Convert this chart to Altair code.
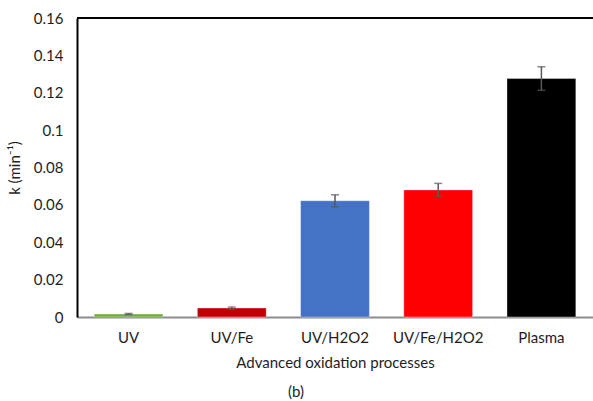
import altair as alt
import pandas as pd

# Pseudo-first-order rate constants for each process
processes = ["UV", "UV/Fe", "UV/H2O2", "UV/Fe/H2O2", "Plasma"]
k_values = [0.0016, 0.0048, 0.0622, 0.0680, 0.1276]
k_errors = [0.0003, 0.0005, 0.0032, 0.0035, 0.0063]
bar_colors = ["#70AD47", "#C00000", "#4472C4", "#FF0000", "#000000"]
y_ticks = [0, 0.02, 0.04, 0.06, 0.08, 0.1, 0.12, 0.14, 0.16]

df = pd.DataFrame({"process": processes, "k": k_values, "err": k_errors})

FONT = "Lato"
FS = 15
TXT = "#1e1e1e"
W, H = 516, 299
LEFT, TOP = 77, 18

x_enc = alt.X(
    "process:N",
    sort=processes,
    scale=alt.Scale(paddingInner=0.333, paddingOuter=0.1665),
    axis=alt.Axis(
        title="Advanced oxidation processes",
        labelAngle=0,
        ticks=False,
        domainColor="#8c8c8c",
        domainWidth=2,
        labelPadding=13,
        titlePadding=10,
    ),
)

y_scale = alt.Scale(domain=[0, 0.16], nice=False)
y_axis = alt.Axis(
    title="k (min⁻¹)",
    values=y_ticks,
    format="~g",
    grid=False,
    ticks=False,
    labelOverlap=False,
    domainColor="#000000",
    domainWidth=2,
    labelPadding=14,
    titlePadding=11,
)

bars = alt.Chart(df).mark_bar(stroke="#ffffff", strokeOpacity=0.35, strokeWidth=1).encode(
    x=x_enc,
    y=alt.Y("k:Q", scale=y_scale, axis=y_axis),
    color=alt.Color("process:N", sort=processes,
                    scale=alt.Scale(domain=processes, range=bar_colors), legend=None),
)

base_err = alt.Chart(df).transform_calculate(
    lo="datum.k - datum.err", hi="datum.k + datum.err"
)

err_rule = base_err.mark_rule(color="#595959", strokeWidth=1.5).encode(
    x=alt.X("process:N", sort=processes),
    y=alt.Y("lo:Q", scale=y_scale, axis=y_axis),
    y2="hi:Q",
)
cap_lo = base_err.mark_tick(color="#595959", thickness=1.5, size=8).encode(
    x=alt.X("process:N", sort=processes), y=alt.Y("lo:Q", scale=y_scale, axis=y_axis)
)
cap_hi = base_err.mark_tick(color="#595959", thickness=1.5, size=8).encode(
    x=alt.X("process:N", sort=processes), y=alt.Y("hi:Q", scale=y_scale, axis=y_axis)
)

# top frame line
top_line = alt.Chart(df).mark_rule(color="#000000", strokeWidth=2).encode(
    x=alt.value(0), x2=alt.value(W), y=alt.value(0)
)

# panel label beneath the axis title
panel = alt.Chart(pd.DataFrame({"t": ["(b)"]})).mark_text(
    font=FONT, fontSize=FS, color=TXT
).encode(text="t:N", x=alt.value(296 - LEFT), y=alt.value(392 - TOP))

chart = alt.layer(bars, err_rule, cap_lo, cap_hi, top_line, panel).properties(
    width=W,
    height=H,
    autosize=alt.AutoSizeParams(type="none"),
    padding={"left": LEFT, "top": TOP, "right": 0, "bottom": 401 - TOP - H},
).configure_view(stroke=None).configure(font=FONT).configure_axis(
    labelFontSize=FS,
    titleFontSize=FS,
    labelColor=TXT,
    titleColor=TXT,
    titleFontWeight="normal",
    labelFont=FONT,
    titleFont=FONT,
)

chart.save("out.html", embed_options={"renderer": "svg", "actions": False})
